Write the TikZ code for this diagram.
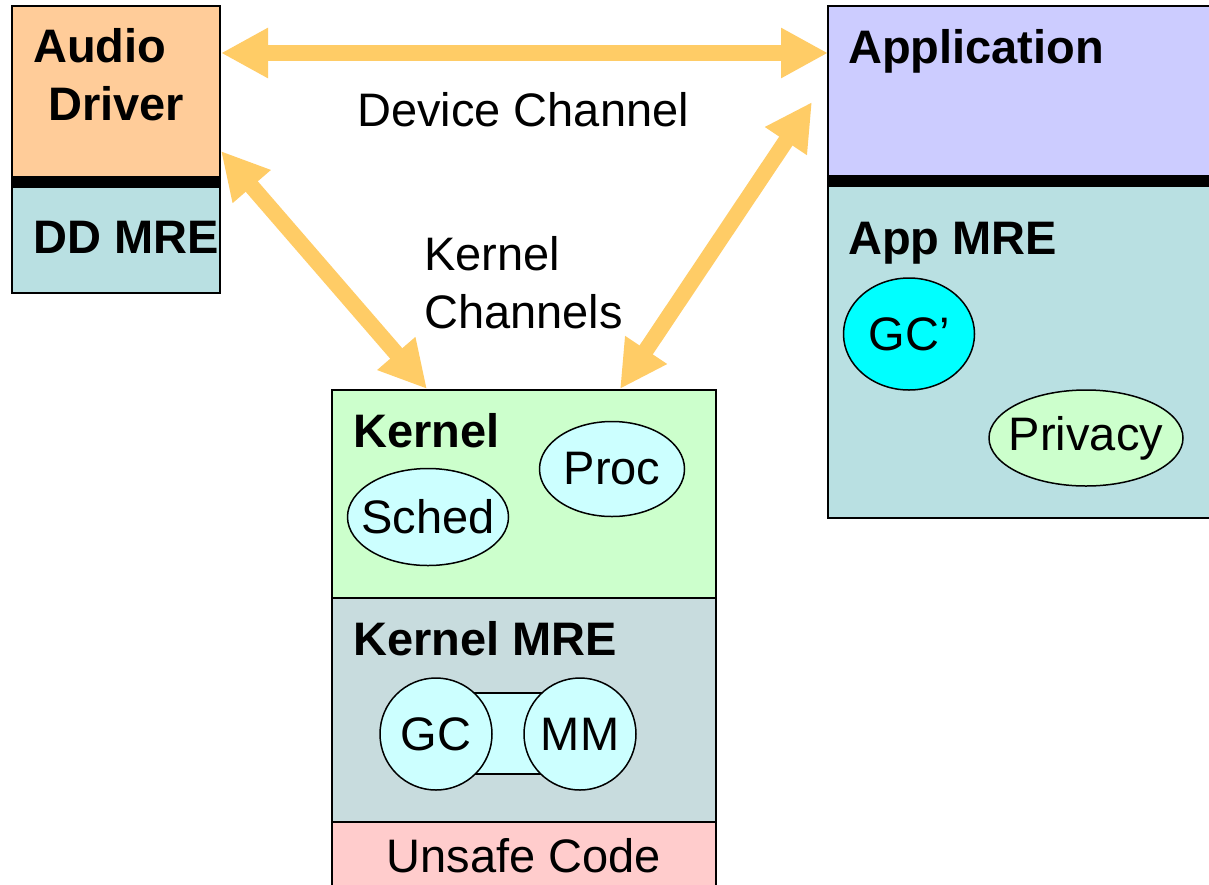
\documentclass[tikz,border=0pt]{standalone}
\usepackage{fontspec}
\setmainfont{Liberation Sans}
\usetikzlibrary{arrows.meta,shapes.geometric}
\definecolor{orng}{RGB}{255,204,153}
\definecolor{tealc}{RGB}{185,224,226}
\definecolor{lav}{RGB}{204,204,255}
\definecolor{lgreen}{RGB}{204,255,204}
\definecolor{lcyan}{RGB}{204,255,255}
\definecolor{brightcyan}{RGB}{0,255,255}
\definecolor{pinkc}{RGB}{255,204,204}
\definecolor{kmrec}{RGB}{200,220,222}
\definecolor{chanc}{RGB}{255,204,102}
\begin{document}
\begin{tikzpicture}[x=1pt,y=-1pt,
 box/.style={draw=black,line width=2pt,anchor=north west,inner sep=0pt,outer sep=0pt},
 lbl/.style={anchor=base west,inner sep=0pt,font=\fontsize{47}{56}\selectfont\bfseries},
 txt/.style={anchor=base west,inner sep=0pt,font=\fontsize{47}{56}\selectfont},
 ctxt/.style={inner sep=0pt,font=\fontsize{47}{56}\selectfont},
 oval/.style={ellipse,draw=black,line width=1.5pt,inner sep=0pt,fill=lcyan},
 bar/.style={line width=12pt,black},
 chan/.style={draw=chanc,line width=16pt,{Triangle[width=47pt,length=47pt]}-{Triangle[width=47pt,length=47pt]}}
]
\path[use as bounding box,clip] (0,0) rectangle (1209,884);
\fill[white] (0,0) rectangle (1209,884);

% Audio driver
\node[box,fill=orng,minimum width=208pt,minimum height=176pt] (adrv) at (12,6) {};
\node[box,fill=tealc,minimum width=208pt,minimum height=111pt] (ddmre) at (12,182) {};
\draw[bar] (adrv.south west) -- (adrv.south east);
\node[lbl] (tAudio) at (33,62) {Audio};
\node[lbl] (tDriver) at (48,120) {Driver};
\node[lbl] (tDD) at (33,253) {DD MRE};

% Application
\node[box,fill=lav,minimum width=400pt,minimum height=175pt] (app) at (828,6) {};
\node[box,fill=tealc,minimum width=400pt,minimum height=337pt] (appmre) at (828,181) {};
\draw[bar] (app.south west) -- (app.south east);
\node[lbl] (tApp) at (848,63) {Application};
\node[lbl] (tAppMRE) at (848,254) {App MRE};
\node[oval,fill=brightcyan,minimum width=131pt,minimum height=112pt] (gcp) at (909,334) {};
\node[ctxt] (tgcp) at (gcp.center) {GC’};
\node[oval,fill=lgreen,minimum width=194pt,minimum height=96pt] (priv) at (1086,438) {};
\node[ctxt] (tpriv) at (priv.center) {Privacy};

% Kernel
\node[box,fill=lgreen,minimum width=384pt,minimum height=208pt] (kern) at (332,390) {};
\node[box,fill=kmrec,minimum width=384pt,minimum height=224pt] (kmre) at (332,598) {};
\node[box,fill=pinkc,minimum width=384pt,minimum height=100pt] (unsafe) at (332,822) {};
\node[lbl] (tKern) at (353,447) {Kernel};
\node[lbl] (tKMRE) at (353,655) {Kernel MRE};
\node[txt,anchor=base] (tUnsafe) at (524,872) {Unsafe Code};
\node[oval,minimum width=161pt,minimum height=97pt] (sched) at (428,517) {};
\node[ctxt] (tsched) at (sched.center) {Sched};
\node[oval,minimum width=145pt,minimum height=95pt] (proc) at (612,469) {};
\node[ctxt] (tproc) at (proc.center) {Proc};
\node[draw=black,line width=1.5pt,fill=lcyan,minimum width=144pt,minimum height=81pt,inner sep=0pt] (link) at (508,733.5) {};
\node[oval,circle,minimum size=112pt] (gc) at (436,734) {};
\node[ctxt] (tgc) at (gc.center) {GC};
\node[oval,circle,minimum size=112pt] (mm) at (580,734) {};
\node[ctxt] (tmm) at (mm.center) {MM};

% Channels
\coordinate (dA) at ([xshift=1pt,yshift=-47pt]adrv.north east);
\coordinate (dB) at ([yshift=-47pt]app.north west);
\draw[chan] (dA) -- (dB);
\coordinate (kA) at ([xshift=1pt,yshift=31pt]adrv.south east);
\coordinate (kB) at ([xshift=95pt,yshift=1pt]kern.north west);
\draw[chan] (kA) -- (kB);
\coordinate (kC) at ([xshift=288pt,yshift=1pt]kern.north west);
\coordinate (kD) at ([xshift=-16pt,yshift=-96pt]app.north west);
\draw[chan] (kC) -- (kD);
\node[txt] (tDev) at (357,126) {Device Channel};
\node[txt] (tKC1) at (424,270) {Kernel};
\node[txt] (tKC2) at (424,328) {Channels};
\end{tikzpicture}
\end{document}
